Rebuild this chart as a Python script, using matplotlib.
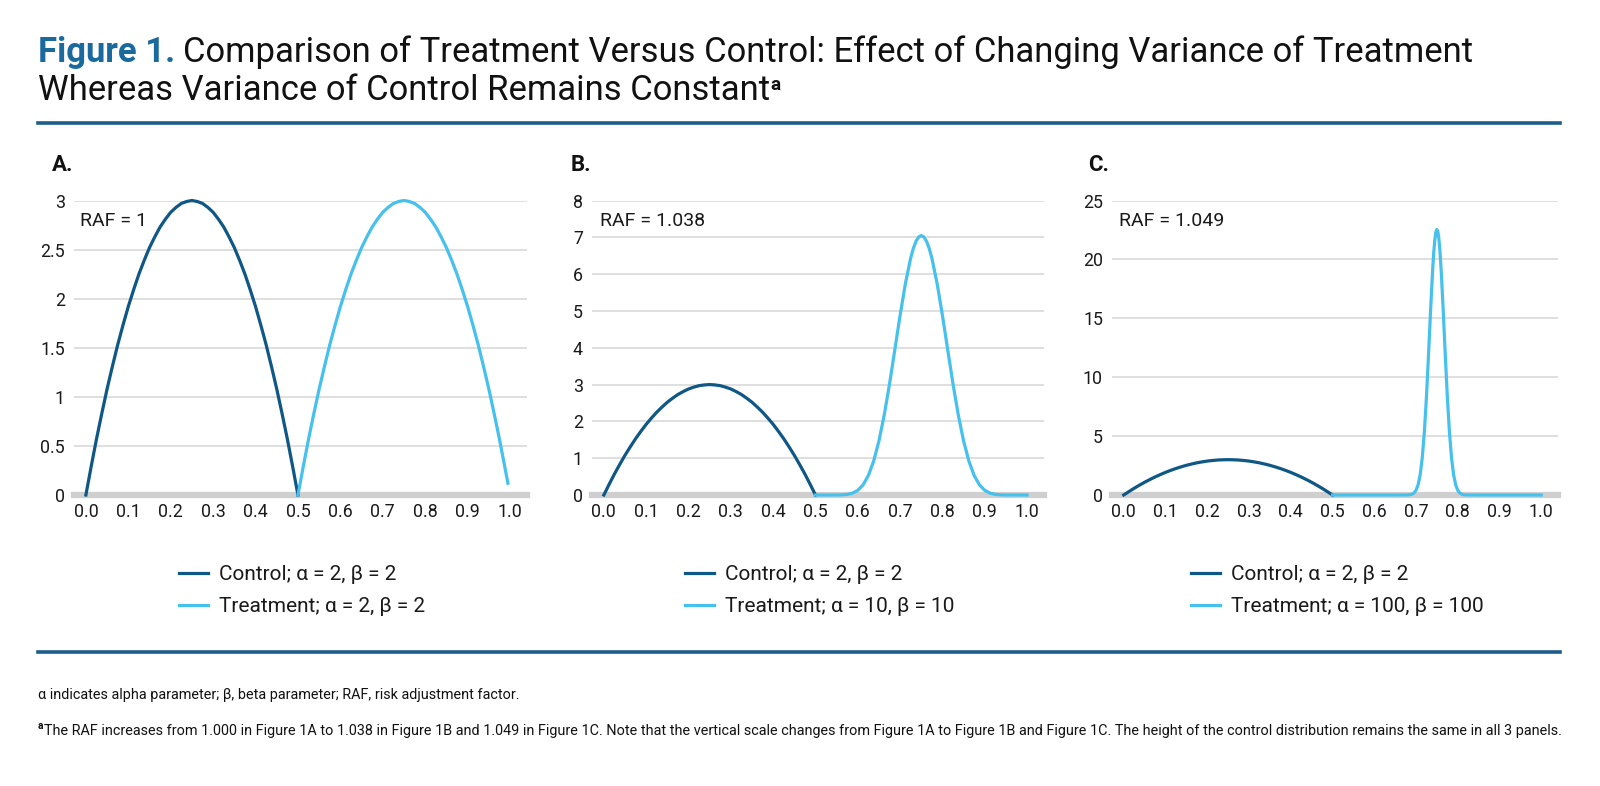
import matplotlib
matplotlib.use("Agg")
import matplotlib.pyplot as plt
from matplotlib import font_manager as fm

# ---------------- data ----------------
x_ticks = [0.0, 0.1, 0.2, 0.3, 0.4, 0.5, 0.6, 0.7, 0.8, 0.9, 1.0]
x_tick_labels = ["0.0", "0.1", "0.2", "0.3", "0.4", "0.5", "0.6", "0.7", "0.8", "0.9", "1.0"]

panel_labels = ["A.", "B.", "C."]
raf_labels = ["RAF = 1", "RAF = 1.038", "RAF = 1.049"]
control_labels = ["Control; α = 2, β = 2", "Control; α = 2, β = 2", "Control; α = 2, β = 2"]
treatment_labels = ["Treatment; α = 2, β = 2", "Treatment; α = 10, β = 10",
                    "Treatment; α = 100, β = 100"]

y_ticks_a = [0, 0.5, 1, 1.5, 2, 2.5, 3]
y_tick_labels_a = ["0", "0.5", "1", "1.5", "2", "2.5", "3"]
y_ticks_b = [0, 1, 2, 3, 4, 5, 6, 7, 8]
y_tick_labels_b = ["0", "1", "2", "3", "4", "5", "6", "7", "8"]
y_ticks_c = [0, 5, 10, 15, 20, 25]
y_tick_labels_c = ["0", "5", "10", "15", "20", "25"]

control_x = [0.0, 0.0125, 0.025, 0.0375, 0.05, 0.0625, 0.075, 0.0875, 0.1, 0.1125,
             0.125, 0.1375, 0.15, 0.1625, 0.175, 0.1875, 0.2, 0.2125, 0.225, 0.2375,
             0.25, 0.2625, 0.275, 0.2875, 0.3, 0.3125, 0.325, 0.3375, 0.35, 0.3625,
             0.375, 0.3875, 0.4, 0.4125, 0.425, 0.4375, 0.45, 0.4625, 0.475, 0.4875, 0.5]
control_y = [0.0, 0.29, 0.57, 0.83, 1.08, 1.31, 1.53, 1.73, 1.92, 2.09,
             2.25, 2.39, 2.52, 2.63, 2.73, 2.81, 2.88, 2.93, 2.97, 2.99,
             3.0, 2.99, 2.97, 2.93, 2.88, 2.81, 2.73, 2.63, 2.52, 2.39,
             2.25, 2.09, 1.92, 1.73, 1.53, 1.31, 1.08, 0.83, 0.57, 0.29, 0.0]

treat_a_x = [0.5, 0.5125, 0.525, 0.5375, 0.55, 0.5625, 0.575, 0.5875, 0.6, 0.6125,
             0.625, 0.6375, 0.65, 0.6625, 0.675, 0.6875, 0.7, 0.7125, 0.725, 0.7375,
             0.75, 0.7625, 0.775, 0.7875, 0.8, 0.8125, 0.825, 0.8375, 0.85, 0.8625,
             0.875, 0.8875, 0.9, 0.9125, 0.925, 0.9375, 0.95, 0.9625, 0.975, 0.9875, 0.995]
treat_a_y = [0.0, 0.29, 0.57, 0.83, 1.08, 1.31, 1.53, 1.73, 1.92, 2.09,
             2.25, 2.39, 2.52, 2.63, 2.73, 2.81, 2.88, 2.93, 2.97, 2.99,
             3.0, 2.99, 2.97, 2.93, 2.88, 2.81, 2.73, 2.63, 2.52, 2.39,
             2.25, 2.09, 1.92, 1.73, 1.53, 1.31, 1.08, 0.83, 0.57, 0.29, 0.12]

treat_b_x = [0.5, 0.5125, 0.525, 0.5375, 0.55, 0.5625, 0.575, 0.5875, 0.6, 0.6125,
             0.625, 0.6375, 0.65, 0.6625, 0.675, 0.6875, 0.7, 0.7125, 0.725, 0.73125,
             0.7375, 0.74375, 0.75, 0.75625, 0.7625, 0.76875, 0.775, 0.7875, 0.8,
             0.8125, 0.825, 0.8375, 0.85, 0.8625, 0.875, 0.8875, 0.9, 0.9125, 0.925,
             0.9375, 0.95, 0.9625, 0.975, 0.9875, 1.0]
treat_b_y = [0.0, 0.0, 0.0, 0.0, 0.001, 0.004, 0.016, 0.05, 0.127, 0.275,
             0.529, 0.92, 1.468, 2.174, 3.016, 3.943, 4.881, 5.743, 6.439, 6.699,
             6.891, 7.008, 7.048, 7.008, 6.891, 6.699, 6.439, 5.743, 4.881,
             3.943, 3.016, 2.174, 1.468, 0.92, 0.529, 0.275, 0.127, 0.05, 0.016,
             0.004, 0.001, 0.0, 0.0, 0.0, 0.0]

treat_c_x = [0.5, 0.55, 0.6, 0.65, 0.68, 0.685, 0.69, 0.695, 0.7, 0.705, 0.71, 0.715,
             0.72, 0.725, 0.73, 0.735, 0.74, 0.7425, 0.745, 0.7475, 0.75, 0.7525, 0.755,
             0.7575, 0.76, 0.765, 0.77, 0.775, 0.78, 0.785, 0.79, 0.795, 0.8, 0.805,
             0.81, 0.815, 0.82, 0.85, 0.9, 0.95, 1.0]
treat_c_y = [0.0, 0.0, 0.0, 0.0, 0.007, 0.022, 0.063, 0.166, 0.396, 0.865, 1.729, 3.176,
             5.362, 8.333, 11.94, 15.77, 19.24, 20.62, 21.66, 22.32, 22.54, 22.32, 21.66,
             20.62, 19.24, 15.77, 11.94, 8.333, 5.362, 3.176, 1.729, 0.865, 0.396, 0.166,
             0.063, 0.022, 0.007, 0.0, 0.0, 0.0, 0.0]

panels = [
    (control_x, control_y, treat_a_x, treat_a_y, y_ticks_a, y_tick_labels_a),
    (control_x, control_y, treat_b_x, treat_b_y, y_ticks_b, y_tick_labels_b),
    (control_x, control_y, treat_c_x, treat_c_y, y_ticks_c, y_tick_labels_c),
]

# ---------------- styling ----------------
W, H = 1600, 786
FONT = ["Roboto", "DejaVu Sans"]
plt.rcParams["font.family"] = FONT
names = {f.name for f in fm.fontManager.ttflist}
FOOT = ["Liberation Sans Narrow", "Roboto", "DejaVu Sans"] if "Liberation Sans Narrow" in names else FONT

C_CTRL = "#0f5784"
C_TREAT = "#46c1ed"
C_BLUE = "#1d5d8b"
C_FIG = "#1b6a9e"
C_GRID = "#d9d9d9"
C_BASE = "#cfcfcf"
C_TXT = "#1a1a1a"


def fx(px):
    return px / W


def fy(py):
    return 1 - py / H


fig = plt.figure(figsize=(16, 7.86), dpi=100)
renderer = fig.canvas.get_renderer()

ax_px = [(74, 527), (592, 1044), (1112, 1558)]
top_px, bot_px = 200.5, 495
raf_x = [80, 600, 1119]
lab_x = [52, 571, 1088]
leg_x = [179, 685, 1191]

for i, (cx, cy, tx, ty, yt, ytl) in enumerate(panels):
    l, r = ax_px[i]
    ax = fig.add_axes([fx(l), fy(bot_px), (r - l) / W, (bot_px - top_px) / H])
    ax.set_xlim(-0.028, 1.04)
    ax.set_ylim(0, yt[-1])
    ax.set_xticks(x_ticks)
    ax.set_xticklabels(x_tick_labels)
    ax.set_yticks(yt)
    ax.set_yticklabels(ytl)
    for s in ax.spines.values():
        s.set_visible(False)
    ax.tick_params(axis="both", length=0, labelsize=12.8, colors=C_TXT)
    ax.tick_params(axis="y", pad=6.5)
    ax.tick_params(axis="x", pad=5.5)
    ax.grid(axis="y", color=C_GRID, lw=1.2, zorder=0)
    ax.set_axisbelow(True)
    ax.axhline(0, color=C_BASE, lw=4.5, zorder=1, clip_on=False)
    lc, = ax.plot(cx, cy, color=C_CTRL, lw=2.3, zorder=3, clip_on=False,
                  solid_joinstyle="round", label=control_labels[i])
    lt, = ax.plot(tx, ty, color=C_TREAT, lw=2.3, zorder=3, clip_on=False,
                  solid_joinstyle="round", label=treatment_labels[i])
    fig.text(fx(raf_x[i]), fy(226), raf_labels[i], fontsize=14, color=C_TXT,
             va="baseline", ha="left")
    fig.text(fx(lab_x[i]), fy(171), panel_labels[i], fontsize=16, weight="bold",
             color="#111111", va="baseline", ha="left")
    ax.legend(handles=[lc, lt], loc="upper left",
              bbox_to_anchor=(fx(leg_x[i]), fy(565)), bbox_transform=fig.transFigure,
              frameon=False, borderpad=0, borderaxespad=0, fontsize=15,
              handlelength=1.4, handletextpad=0.5, labelspacing=0.64,
              labelcolor=C_TXT)

# ---------------- title ----------------
def place_title(size):
    t1 = fig.text(fx(38), fy(62), "Figure 1.", fontsize=size, weight="bold",
                  color=C_FIG, va="baseline", ha="left")
    bb1 = t1.get_window_extent(renderer)
    t2 = fig.text(fx(bb1.x1 + size * 0.3), fy(62),
                  "Comparison of Treatment Versus Control: Effect of Changing Variance of Treatment",
                  fontsize=size, weight="normal", color="#111111", va="baseline", ha="left")
    return t1, t2

size = 20
t1, t2 = place_title(size)
for _ in range(2):
    w = t2.get_window_extent(renderer).x1 - 38
    size = size * (1474 - 38) / w
    t1.remove(); t2.remove()
    t1, t2 = place_title(size)

t3 = fig.text(fx(38), fy(100), "Whereas Variance of Control Remains Constant", fontsize=size,
              weight="normal", color="#111111", va="baseline", ha="left")
bb3 = t3.get_window_extent(renderer)
fig.text(fx(bb3.x1 + 0.5), fy(90), "a", fontsize=size * 0.55, weight="bold",
         color="#111111", va="baseline", ha="left")

# ---------------- rules ----------------
for yy in (123, 652):
    fig.add_artist(plt.Line2D([fx(38), fx(1560)], [fy(yy), fy(yy)], color=C_BLUE, lw=2.6,
                              transform=fig.transFigure))

# ---------------- footnotes ----------------
foot1 = "α indicates alpha parameter; β, beta parameter; RAF, risk adjustment factor."
foot2 = ("The RAF increases from 1.000 in Figure 1A to 1.038 in Figure 1B and 1.049 in Figure 1C. "
         "Note that the vertical scale changes from Figure 1A to Figure 1B and Figure 1C. "
         "The height of the control distribution remains the same in all 3 panels.")

fs = 11
sup = fig.text(fx(38), fy(729), "a", fontsize=fs * 0.7, weight="bold", family=FOOT,
               color="#111111", va="baseline", ha="left")
sb = sup.get_window_extent(renderer)
f2 = fig.text(fx(sb.x1 + 1), fy(735), foot2, fontsize=fs, family=FOOT, color="#111111",
              va="baseline", ha="left")
w2 = f2.get_window_extent(renderer).x1 - 38
fs = fs * (1558 - 38) / w2
sup.set_fontsize(fs * 0.7)
sb = sup.get_window_extent(renderer)
f2.set_fontsize(fs)
f2.set_x(fx(sb.x1 + 1))
fig.text(fx(38), fy(699), foot1, fontsize=fs, family=FOOT, color="#111111",
         va="baseline", ha="left")

fig.savefig("out.png", dpi=100)
